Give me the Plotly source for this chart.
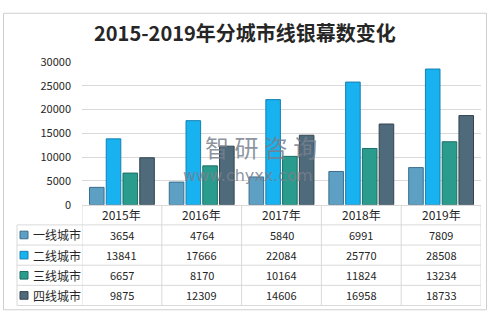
import plotly.graph_objects as go

years = ["2015年", "2016年", "2017年", "2018年", "2019年"]
series_names = ["一线城市", "二线城市", "三线城市", "四线城市"]
tier1 = [3654, 4764, 5840, 6991, 7809]
tier2 = [13841, 17666, 22084, 25770, 28508]
tier3 = [6657, 8170, 10164, 11824, 13234]
tier4 = [9875, 12309, 14606, 16958, 18733]
series_values = [tier1, tier2, tier3, tier4]
y_ticks = [0, 5000, 10000, 15000, 20000, 25000, 30000]

fill_colors = ["#5e9fc4", "#17b2ef", "#2a9c8e", "#4f6a7b"]
edge_colors = ["#3b6f8c", "#1680b2", "#1c6d63", "#33444f"]

W, H = 494, 322
FONT = "Noto Sans CJK SC"
TXT = "#262626"
LINE = "#d9d9d9"
WM = "rgba(120,128,142,0.85)"


def px(x):
    return x / W


def py(y):
    return 1 - y / H


fig = go.Figure()
for name, vals, fc, ec in zip(series_names, series_values, fill_colors, edge_colors):
    fig.add_trace(go.Bar(
        x=years, y=vals, name=name,
        marker=dict(color=fc, line=dict(color=ec, width=1)),
        showlegend=False,
    ))

plot_left, plot_right = 82, 481
y_zero, y_top = 206, 55.7
row_edges = [206, 227.2, 248.4, 269.6, 290.8, 312]
table_left = 17

annotations = []
shapes = []

# title
annotations.append(dict(
    text="<b>2015-2019年分城市线银幕数变化</b>", x=px(245), y=py(25),
    xref="paper", yref="paper", showarrow=False, xanchor="center", yanchor="middle",
    font=dict(family=FONT, size=20, color=TXT),
))

# watermark
annotations.append(dict(
    text="智 研 咨 询", x=px(261), y=py(145), xref="paper", yref="paper",
    showarrow=False, xanchor="center", yanchor="middle",
    font=dict(family=FONT, size=24, color=WM),
))
annotations.append(dict(
    text="www.chyxx.com", x=px(248), y=py(175), xref="paper", yref="paper",
    showarrow=False, xanchor="center", yanchor="middle",
    font=dict(family="DejaVu Sans", size=16, color=WM),
))

# table header (years)
hy = (row_edges[0] + row_edges[1]) / 2
for yr in years:
    annotations.append(dict(
        text=yr, x=yr, y=py(hy), xref="x", yref="paper", showarrow=False,
        xanchor="center", yanchor="middle", font=dict(family=FONT, size=12, color=TXT),
    ))

# table rows
for r, (name, vals, fc, ec) in enumerate(zip(series_names, series_values, fill_colors, edge_colors)):
    cy = (row_edges[r + 1] + row_edges[r + 2]) / 2
    annotations.append(dict(
        text=name, x=px(31), y=py(cy), xref="paper", yref="paper", showarrow=False,
        xanchor="left", yanchor="middle", font=dict(family=FONT, size=12, color=TXT),
    ))
    shapes.append(dict(
        type="rect", xref="paper", yref="paper", x0=px(20), x1=px(28),
        y0=py(cy - 4), y1=py(cy + 4), fillcolor=fc, line=dict(color=ec, width=1),
    ))
    for yr, v in zip(years, vals):
        annotations.append(dict(
            text=str(v), x=yr, y=py(cy), xref="x", yref="paper", showarrow=False,
            xanchor="center", yanchor="middle", font=dict(family=FONT, size=11, color=TXT),
        ))

# table grid lines
for i in range(len(years) + 1):
    shapes.append(dict(
        type="line", xref="x", yref="paper", x0=i - 0.5, x1=i - 0.5,
        y0=py(row_edges[0]), y1=py(row_edges[-1]), line=dict(color=LINE, width=1),
    ))
shapes.append(dict(
    type="line", xref="paper", yref="paper", x0=px(table_left), x1=px(table_left),
    y0=py(row_edges[1]), y1=py(row_edges[-1]), line=dict(color=LINE, width=1),
))
for ye in row_edges[1:]:
    shapes.append(dict(
        type="line", xref="paper", yref="paper", x0=px(table_left), x1=px(plot_right),
        y0=py(ye), y1=py(ye), line=dict(color=LINE, width=1),
    ))

# outer border
shapes.append(dict(
    type="rect", xref="paper", yref="paper", x0=px(3.5), x1=px(486.5),
    y0=py(316.5), y1=py(4.5), line=dict(color="#cfcfcf", width=1), fillcolor="rgba(0,0,0,0)",
))

fig.update_layout(
    width=W, height=H,
    margin=dict(l=0, r=0, t=0, b=0),
    paper_bgcolor="white", plot_bgcolor="white",
    barmode="group", bargap=0.16, bargroupgap=0.13,
    font=dict(family=FONT, color=TXT),
    xaxis=dict(
        domain=[px(plot_left), px(plot_right)], showticklabels=False, showgrid=False,
        showline=True, linecolor=LINE, linewidth=1, ticks="", range=[-0.5, 4.5],
    ),
    yaxis=dict(
        domain=[py(y_zero), py(y_top)], range=[0, 30000], tickvals=y_ticks,
        tickformat="d",
        showgrid=True, gridcolor=LINE, gridwidth=1, zeroline=False, showline=False,
        ticks="", ticklabelstandoff=10, tickfont=dict(family=FONT, size=11, color=TXT),
    ),
    annotations=annotations,
    shapes=shapes,
)

fig.write_html("out.html")
